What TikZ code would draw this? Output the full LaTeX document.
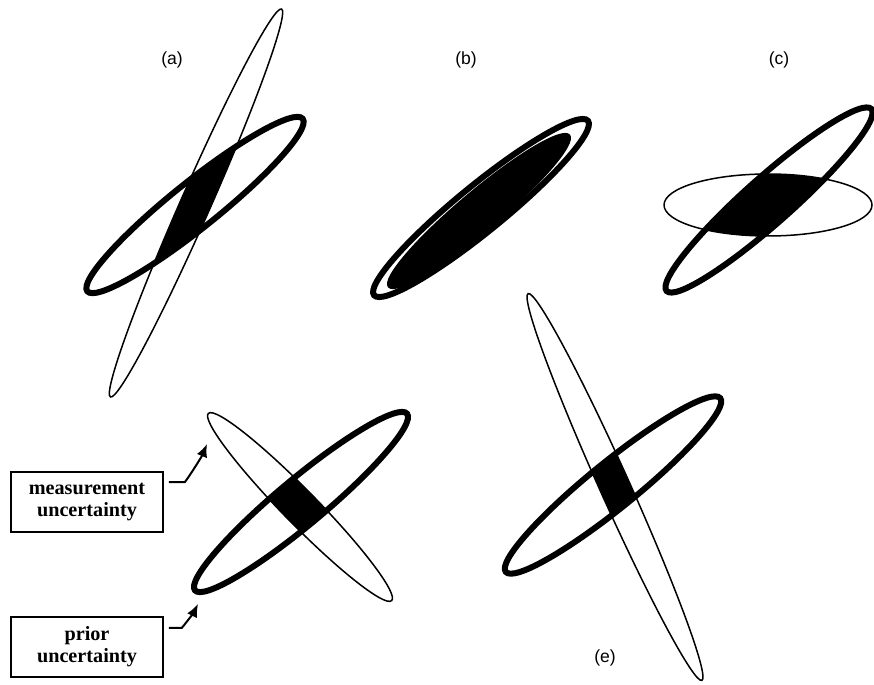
\documentclass[tikz,border=0pt]{standalone}
\usepackage{fontspec}
\setmainfont{Liberation Serif}
\setsansfont{Liberation Sans}
\usetikzlibrary{positioning}
\usetikzlibrary{calc}
\usetikzlibrary{arrows.meta}

\begin{document}
\begin{tikzpicture}[
    x=0.02cm, y=-0.02cm,
    priorring/.style={line width=0.12cm},
    measring/.style={line width=0.03cm},
    labelbox/.style={rectangle, draw, line width=0.035cm, minimum width=3.04cm, minimum height=1.2cm, align=center, inner sep=0pt, font=\fontsize{11.5}{12.5}\selectfont\bfseries},
    tag/.style={font=\sffamily\fontsize{10}{12}\selectfont},
    >={Latex[length=2.6mm,width=2.2mm]}
]
    \useasboundingbox (0,0) rectangle (874,685);

    \node[tag] (taga) at (172,60) {(a)};
    \node[tag] (tagb) at (466,60) {(b)};
    \node[tag] (tagc) at (779,60) {(c)};
    \node[tag] (tage) at (605,658) {(e)};

    \begin{scope}
        \clip[rotate around={38.7:(195,205)}] (195,205) ellipse [x radius=138, y radius=23];
        \fill[rotate around={66.2:(196,203)}] (196,203) ellipse [x radius=212, y radius=15];
    \end{scope}
    \draw[measring, rotate around={66.2:(196,203)}] (196,203) ellipse [x radius=212, y radius=15];
    \draw[priorring, rotate around={38.7:(195,205)}] (195,205) ellipse [x radius=138, y radius=23];

    \filldraw[measring, rotate around={40:(479,211)}] (479,211) ellipse [x radius=118, y radius=19.5];
    \draw[priorring, rotate around={39.2:(481,208)}] (481,208) ellipse [x radius=138, y radius=23];

    \begin{scope}
        \clip[rotate around={41.6:(769,200)}] (769,200) ellipse [x radius=137, y radius=23];
        \fill (768,205) ellipse [x radius=104, y radius=31];
    \end{scope}
    \draw[measring] (768,205) ellipse [x radius=104, y radius=31];
    \draw[priorring, rotate around={41.6:(769,200)}] (769,200) ellipse [x radius=137, y radius=23];

    \begin{scope}
        \clip[rotate around={39.8:(301,502)}] (301,502) ellipse [x radius=138, y radius=23];
        \fill[rotate around={-45.6:(300,507)}] (300,507) ellipse [x radius=131, y radius=17];
    \end{scope}
    \draw[measring, rotate around={-45.6:(300,507)}] (300,507) ellipse [x radius=131, y radius=17];
    \draw[priorring, rotate around={39.8:(301,502)}] (301,502) ellipse [x radius=138, y radius=23];

    \begin{scope}
        \clip[rotate around={39:(613,485)}] (613,485) ellipse [x radius=138, y radius=23];
        \fill[rotate around={-65.8:(615,487)}] (615,487) ellipse [x radius=212, y radius=15];
    \end{scope}
    \draw[measring, rotate around={-65.8:(615,487)}] (615,487) ellipse [x radius=212, y radius=15];
    \draw[priorring, rotate around={39:(613,485)}] (613,485) ellipse [x radius=138, y radius=23];

    \node[labelbox] (measbox) at (87,502) {measurement\\uncertainty};
    \node[labelbox, below=1.66cm of measbox] (priorbox) {prior\\uncertainty};

    \coordinate (mtip) at (207,444);
    \coordinate (ptip) at (198,604);
    \draw[->, line width=0.04cm] ($(measbox.north east)+(5,11)$) -- ++(16,0) .. controls +(6,-8) and +(-5,12) .. (mtip);
    \draw[->, line width=0.04cm] ($(priorbox.north east)+(5,12)$) -- ++(13,0) .. controls +(5,-6) and +(-4,8) .. (ptip);
\end{tikzpicture}
\end{document}
